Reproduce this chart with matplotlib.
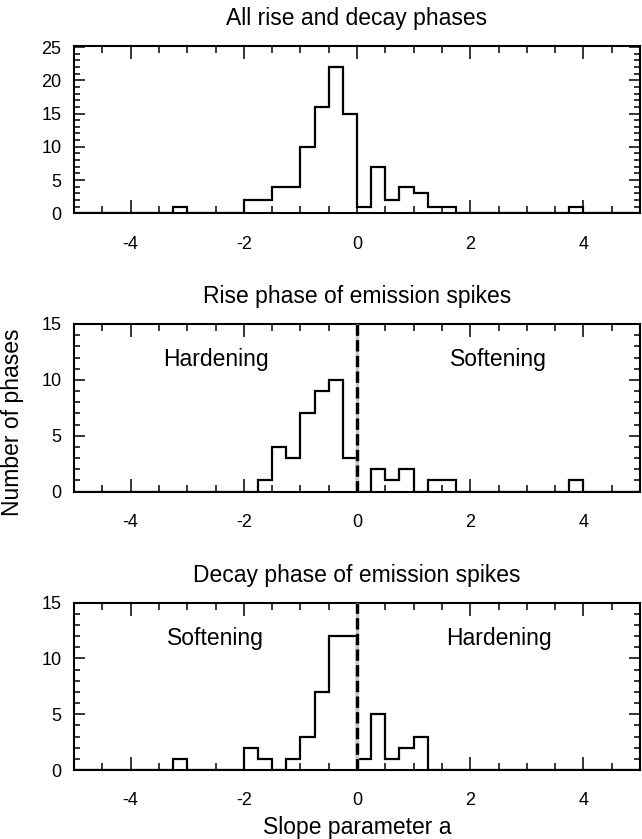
import numpy as np
import matplotlib
matplotlib.use('Agg')
import matplotlib.pyplot as plt
from matplotlib.ticker import MultipleLocator

plt.rcParams['font.family'] = ['Liberation Sans', 'DejaVu Sans']
plt.rcParams['axes.unicode_minus'] = False

# histogram bins of width 0.25 in slope parameter a; values are counts per bin
bin_left = [-3.25, -2.0, -1.75, -1.5, -1.25, -1.0, -0.75, -0.5, -0.25,
            0.0, 0.25, 0.5, 0.75, 1.0, 1.25, 1.5, 3.75]
all_counts = [1, 2, 2, 4, 4, 10, 16, 22, 15, 1, 7, 2, 4, 3, 1, 1, 1]
rise_counts = [0, 0, 1, 4, 3, 7, 9, 10, 3, 0, 2, 1, 2, 0, 1, 1, 1]
decay_counts = [1, 2, 1, 0, 1, 3, 7, 12, 12, 1, 5, 1, 2, 3, 0, 0, 0]

titles = ['All rise and decay phases', 'Rise phase of emission spikes',
          'Decay phase of emission spikes']
side_labels = [None, ('Hardening', 'Softening'), ('Softening', 'Hardening')]
ymax = [25.2, 15, 15]

edges = np.arange(-5, 5.001, 0.25)


def full_hist(counts):
    h = np.zeros(len(edges) - 1)
    for x, c in zip(bin_left, counts):
        h[int(round((x + 5) / 0.25))] = c
    return h


fig = plt.figure(figsize=(6.42, 8.39), dpi=100)
W, H = 642, 839
tops = [45.7, 324, 602.5]
ph = 167.6

for i, counts in enumerate([all_counts, rise_counts, decay_counts]):
    ax = fig.add_axes([74 / W, 1 - (tops[i] + ph) / H, 566 / W, ph / H])
    ax.stairs(full_hist(counts), edges, color='k', lw=1.6, baseline=0)
    if side_labels[i] is not None:
        ax.axvline(0, color='0.78', lw=2.4, zorder=3)
        ax.axvline(0, color='k', lw=2.4, ls=(0, (3.4, 1.3)), zorder=4)
        ax.text(-2.5, 11.8, side_labels[i][0], ha='center', va='center', fontsize=16.5)
        ax.text(2.5, 11.8, side_labels[i][1], ha='center', va='center', fontsize=16.5)
    ax.set_xlim(-5, 5)
    ax.set_ylim(0, ymax[i])
    ax.xaxis.set_major_locator(MultipleLocator(2))
    ax.xaxis.set_minor_locator(MultipleLocator(0.5))
    ax.yaxis.set_major_locator(MultipleLocator(5))
    ax.yaxis.set_minor_locator(MultipleLocator(1))
    ax.tick_params(which='both', direction='in', top=True, right=True, width=1.1)
    ax.tick_params(axis='x', which='major', length=9.5, pad=16, labelsize=13)
    ax.tick_params(axis='x', which='minor', length=5)
    ax.tick_params(axis='y', which='major', length=8, pad=9, labelsize=13)
    ax.tick_params(axis='y', which='minor', length=4.3)
    for s in ax.spines.values():
        s.set_linewidth(1.5)
    ax.set_title(titles[i], fontsize=16.5, pad=15)
    if i == 1:
        ax.set_ylabel('Number of phases', fontsize=16.5)
        ax.yaxis.set_label_coords(-0.088, 0.415)
    if i == 2:
        ax.set_xlabel('Slope parameter a', fontsize=16.5, labelpad=5)

fig.savefig('out.png', dpi=100)
